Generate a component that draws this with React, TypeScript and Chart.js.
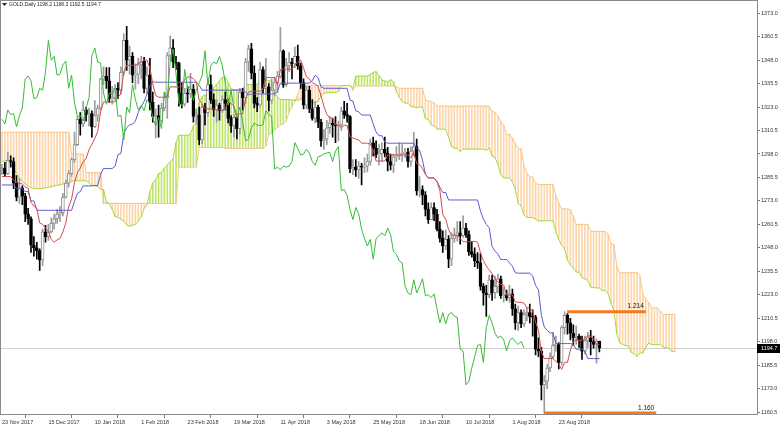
import React, { useEffect, useRef } from 'react';
import { Chart, registerables } from 'chart.js';

Chart.register(...registerables);

type Bar = [number, number, number, number]; // open, high, low, close

const symbolName = 'GOLD,Daily';

const ohlcNov2017: Bar[] = [
  [1289.5, 1292.5, 1287, 1290.5],
  [1290.5, 1293.5, 1286, 1287.5],
  [1287.5, 1299, 1287, 1294.5],
  [1294.5, 1297, 1291, 1294],
  [1294, 1296, 1279.5, 1282.5],
  [1282.5, 1286.5, 1273, 1275],
];
const ohlcDec2017: Bar[] = [
  [1275, 1285, 1271.5, 1280],
  [1280, 1281, 1271, 1275.5],
  [1275.5, 1277, 1262, 1266],
  [1266, 1269, 1260.5, 1263.5],
  [1263.5, 1264.5, 1245.5, 1249.5],
  [1249.5, 1254, 1243.5, 1248],
  [1248, 1251, 1242, 1246.5],
  [1246.5, 1247.5, 1236, 1241.5],
  [1241.5, 1258, 1238.5, 1256.5],
  [1256.5, 1260, 1251, 1254],
  [1254, 1260.5, 1252, 1256.5],
  [1256.5, 1264, 1256, 1261],
  [1261, 1266, 1258, 1263.5],
  [1263.5, 1268.5, 1261, 1266],
  [1266, 1270, 1262, 1266.8],
  [1266.8, 1277, 1265, 1275],
  [1275, 1284, 1274.5, 1282.5],
  [1282.5, 1289, 1280.5, 1287.5],
  [1287.5, 1296, 1286, 1295],
  [1295, 1309.5, 1293.5, 1303],
];
const ohlcJan2018: Bar[] = [
  [1303, 1318, 1302.5, 1316.5],
  [1316.5, 1320, 1308, 1314],
  [1314, 1326, 1312.5, 1321.5],
  [1321.5, 1323, 1315.5, 1319],
  [1319, 1322.5, 1313, 1319.5],
  [1319.5, 1321, 1307, 1312.5],
  [1312.5, 1326.5, 1312, 1318.5],
  [1318.5, 1324, 1315.5, 1322.5],
  [1322.5, 1338.5, 1321.5, 1338],
  [1338, 1344.5, 1335, 1339.5],
  [1339.5, 1344, 1333, 1337],
  [1337, 1344, 1325.5, 1327.5],
  [1327.5, 1334, 1324.5, 1328],
  [1328, 1335, 1326.5, 1333],
  [1333, 1336, 1327.5, 1332],
  [1332, 1344.5, 1330, 1341.5],
  [1341.5, 1362, 1340, 1358.5],
  [1358.5, 1366, 1342.5, 1348],
  [1348, 1355.5, 1340.5, 1350],
  [1350, 1352, 1336, 1340],
  [1340, 1346, 1332.5, 1340.5],
  [1340.5, 1349, 1335.5, 1345.5],
];
const ohlcFeb2018: Bar[] = [
  [1345.5, 1350, 1338, 1347.5],
  [1347.5, 1349.5, 1330.5, 1333],
  [1333, 1344.5, 1330, 1340],
  [1340, 1349, 1321.5, 1325.5],
  [1325.5, 1331, 1315, 1318],
  [1318, 1322, 1306.5, 1318.5],
  [1318.5, 1324, 1307, 1315.5],
  [1315.5, 1325, 1314.5, 1322.5],
  [1322.5, 1331, 1321, 1328],
  [1328, 1352, 1317, 1350.5],
  [1350.5, 1361, 1348, 1354.5],
  [1354.5, 1359, 1344, 1347],
  [1347, 1350, 1343, 1346.5],
  [1346.5, 1347, 1323.5, 1330.5],
  [1330.5, 1336, 1322.5, 1324.5],
  [1324.5, 1333, 1323.5, 1330.5],
  [1330.5, 1334, 1325.5, 1330],
  [1330, 1341, 1328, 1332.5],
  [1332.5, 1335, 1315, 1318],
  [1318, 1322, 1314, 1318.6],
];
const ohlcMar2018: Bar[] = [
  [1318.6, 1323, 1303, 1305.5],
  [1305.5, 1324.5, 1303.5, 1323],
  [1323, 1325, 1313.5, 1320],
  [1320, 1337, 1318, 1335],
  [1335, 1340, 1325, 1327],
  [1327, 1330, 1318, 1321.5],
  [1321.5, 1327, 1315, 1324],
  [1324, 1325, 1316, 1321],
  [1321, 1329, 1320, 1327],
  [1327, 1331, 1321.5, 1325],
  [1325, 1327, 1314.5, 1317],
  [1317, 1318.5, 1309.5, 1313],
  [1313, 1319, 1307, 1317.5],
  [1317.5, 1318, 1306, 1311.5],
  [1311.5, 1333, 1308.5, 1331],
  [1331, 1333, 1321.5, 1328],
  [1328, 1349, 1325, 1347],
  [1347, 1356, 1342, 1354],
  [1354, 1357, 1338, 1341],
  [1341, 1345, 1322.5, 1325],
  [1325, 1328, 1320.5, 1324],
];
const ohlcApr2018: Bar[] = [
  [1324, 1347, 1323.5, 1343],
  [1343, 1344.5, 1330.5, 1333],
  [1333, 1349, 1330, 1333.8],
  [1333.8, 1335.5, 1321, 1326.5],
  [1326.5, 1338, 1325, 1332],
  [1332, 1339, 1329, 1336],
  [1336, 1342, 1330.5, 1339.5],
  [1339.5, 1365.5, 1338.5, 1353],
  [1353, 1353.5, 1333.5, 1335],
  [1335, 1349, 1334, 1345],
  [1345, 1352, 1342, 1347],
  [1347, 1349, 1338, 1346],
  [1346, 1355, 1344, 1350],
  [1350, 1356, 1343, 1345],
  [1345, 1346.5, 1333, 1336],
  [1336, 1338, 1322, 1324],
  [1324, 1334, 1322, 1332],
  [1332, 1334, 1320, 1322],
  [1322, 1327, 1316, 1317],
  [1317, 1326, 1314.5, 1323],
  [1323, 1324, 1312, 1315],
];
const ohlcMay2018: Bar[] = [
  [1315, 1316.5, 1302, 1305],
  [1305, 1311, 1300.5, 1306],
  [1306, 1316, 1303, 1312],
  [1312, 1318, 1309, 1314.5],
  [1314.5, 1317, 1307, 1313.5],
  [1313.5, 1318, 1304, 1313],
  [1313, 1315.5, 1305, 1313.6],
  [1313.6, 1323, 1310.5, 1321],
  [1321, 1326, 1317, 1319],
  [1319, 1325, 1315, 1318],
  [1318, 1318.5, 1288, 1290],
  [1290, 1295, 1287, 1291],
  [1291, 1295, 1286, 1289.5],
  [1289.5, 1294, 1285, 1291.5],
  [1291.5, 1293, 1281.5, 1291],
  [1291, 1296, 1288, 1291.5],
  [1291.5, 1298, 1288.5, 1294],
  [1294, 1306, 1292, 1304],
  [1304, 1307, 1297, 1301],
  [1301, 1305, 1296, 1297.5],
  [1297.5, 1303, 1292, 1298],
  [1298, 1304, 1294, 1300.5],
  [1300.5, 1307, 1296.5, 1298.5],
];
const ohlcJun2018: Bar[] = [
  [1298.5, 1301.5, 1289, 1294],
  [1294, 1298, 1289.5, 1292],
  [1292, 1298, 1288, 1296.5],
  [1296.5, 1302, 1294, 1297],
  [1297, 1304, 1295, 1298],
  [1298, 1303, 1294, 1298.5],
  [1298.5, 1301, 1296, 1299],
  [1299, 1301, 1291, 1294],
  [1294, 1302, 1291.5, 1299.5],
  [1299.5, 1309.5, 1297, 1302],
  [1302, 1306, 1276, 1278.5],
  [1278.5, 1286, 1275, 1279],
  [1279, 1281, 1271, 1276],
  [1276, 1278, 1265, 1268.5],
  [1268.5, 1272, 1261, 1263],
  [1263, 1272, 1263, 1269.5],
  [1269.5, 1272, 1262.5, 1266],
  [1266, 1268.5, 1257, 1258],
  [1258, 1262, 1251, 1253],
  [1253, 1257, 1245.5, 1249],
  [1249, 1257.5, 1247, 1252.5],
];
const ohlcJul2018: Bar[] = [
  [1252.5, 1254.5, 1237.5, 1242],
  [1242, 1256, 1238.5, 1253],
  [1253, 1258.5, 1251, 1254.5],
  [1254.5, 1262, 1251.5, 1256],
  [1256, 1262, 1250, 1254.5],
  [1254.5, 1265, 1253.5, 1258.5],
  [1258.5, 1261, 1253.5, 1255],
  [1255, 1257, 1244, 1246],
  [1246, 1251.5, 1243, 1244.5],
  [1244.5, 1248, 1238, 1241],
  [1241, 1245.5, 1237, 1240],
  [1240, 1245, 1225.5, 1227.5],
  [1227.5, 1229, 1217.5, 1224],
  [1224, 1228, 1211.5, 1223],
  [1223, 1233.5, 1221.5, 1231],
  [1231, 1233.5, 1220, 1224],
  [1224, 1233, 1221, 1227.5],
  [1227.5, 1234, 1224, 1231.5],
  [1231.5, 1233, 1221, 1222.5],
  [1222.5, 1227, 1219, 1223],
  [1223, 1225.5, 1220, 1221.5],
  [1221.5, 1228, 1219, 1223.5],
];
const ohlcAug2018: Bar[] = [
  [1223.5, 1226, 1212, 1215.5],
  [1215.5, 1218, 1204.5, 1208],
  [1208, 1217, 1204, 1213.5],
  [1213.5, 1215, 1205.5, 1207.5],
  [1207.5, 1215, 1206, 1212.5],
  [1212.5, 1216, 1209, 1213.5],
  [1213.5, 1218, 1208, 1211.5],
  [1211.5, 1215, 1201, 1211],
  [1211, 1212, 1191, 1194],
  [1194, 1200, 1190, 1193],
  [1193, 1195, 1167, 1175],
  [1175, 1180, 1160, 1177],
  [1177, 1186, 1173, 1184],
  [1184, 1192, 1182, 1190],
  [1190, 1203, 1189, 1196],
  [1196, 1201, 1193, 1196.5],
  [1196.5, 1197.5, 1183.5, 1187],
  [1187, 1206.5, 1185.5, 1205.5],
  [1205.5, 1214, 1202, 1212],
  [1212, 1213, 1202, 1208],
  [1208, 1210.5, 1199, 1202.5],
  [1202.5, 1207, 1196, 1200],
  [1200, 1206.5, 1196.5, 1201],
];
const ohlcSep2018: Bar[] = [
  [1201, 1202, 1195, 1199],
  [1199, 1201, 1188.5, 1193],
  [1193, 1201, 1191.5, 1198.5],
  [1198.5, 1203, 1195, 1200],
  [1200, 1204, 1191, 1198],
  [1198, 1201, 1194.5, 1196.5],
  [1196.5, 1199.5, 1186.5, 1198.2],
  [1198.2, 1198.3, 1192.5, 1194.7],
];

// Ichimoku: Tenkan-sen (one value per bar)
const tenkan: number[] = [
  1286, 1286, 1286, 1286, 1284, 1283, 1282.5, 1282,
  1280.5, 1279.75, 1272.25, 1270.25, 1269, 1261.25, 1260.5, 1258.5,
  1256.5, 1252.5, 1251, 1252.25, 1253, 1256.5, 1261.25, 1270,
  1274, 1282.75, 1288, 1290.5, 1294, 1295.5, 1300.25, 1303.25,
  1306.25, 1310, 1320.5, 1325.75, 1325.75, 1325.75, 1325.75, 1325.75,
  1328.25, 1330, 1341.75, 1345.25, 1345.25, 1345.25, 1345.25, 1346.25,
  1346.75, 1348, 1348, 1343.75, 1335.25, 1329.25, 1328.25, 1328.25,
  1328.25, 1329.25, 1333.75, 1333.75, 1333.75, 1333.75, 1334, 1337.75,
  1339, 1339, 1338, 1336.5, 1326.5, 1325, 1322, 1322,
  1322, 1322, 1321.5, 1321.5, 1321.5, 1321.75, 1326.75, 1324.75,
  1323.5, 1318.5, 1319.5, 1319.5, 1327.5, 1331, 1331.5, 1331.5,
  1331.5, 1331.5, 1332.75, 1338.75, 1338.75, 1338.75, 1338.75, 1334.75,
  1343, 1343.25, 1343.25, 1343.25, 1343.25, 1345.25, 1347.25, 1348,
  1343.75, 1339, 1338, 1336, 1335.25, 1334, 1329, 1323.5,
  1319.25, 1317.25, 1317.25, 1313.75, 1313.25, 1312.25, 1313.25, 1313.25,
  1307, 1306.5, 1306, 1305.5, 1303.75, 1303.75, 1303.75, 1303.25,
  1300, 1294.25, 1294.25, 1294.25, 1294.25, 1297.5, 1297.75, 1297.5,
  1297.5, 1297.5, 1297.5, 1297.5, 1297.5, 1296, 1298.75, 1292.75,
  1292.25, 1290.25, 1287.25, 1285.25, 1285.25, 1285.25, 1283.25, 1278.5,
  1265.75, 1263.25, 1257.75, 1254.75, 1254.75, 1254.75, 1253, 1251.25,
  1251.25, 1251.25, 1251.25, 1251.5, 1251, 1245.25, 1241.25, 1238.25,
  1236.25, 1234.25, 1231.5, 1229.75, 1228.5, 1228.25, 1222.75, 1222.75,
  1223, 1219.25, 1219, 1219, 1218.5, 1216, 1216, 1214.5,
  1208.5, 1204, 1192.5, 1189, 1189, 1189, 1189, 1187.5,
  1186, 1183.25, 1187, 1187, 1193.5, 1198, 1198.75, 1198.75,
  1198.75, 1199.75, 1201.25, 1200.75, 1199.5, 1196.75, 1196.5,
];

// Ichimoku: Kijun-sen (one value per bar)
const kijun: number[] = [
  1281.5, 1281.5, 1281.5, 1281.5, 1281.5, 1279.5, 1279.5, 1279.5,
  1278, 1278, 1273, 1273, 1268, 1268, 1268, 1268,
  1268, 1268, 1268, 1268, 1268, 1268, 1268, 1268,
  1268, 1272.75, 1277, 1278, 1281, 1281, 1281, 1281,
  1281.25, 1281.25, 1287.25, 1290.25, 1290.25, 1290.25, 1290.25, 1291.5,
  1297.75, 1298.25, 1309, 1312, 1313.5, 1314, 1315.5, 1320.25,
  1323.25, 1326, 1329.75, 1334.25, 1336.5, 1336.25, 1336.25, 1336.25,
  1336.25, 1336.25, 1336.25, 1336.25, 1336.25, 1336.25, 1336.25, 1336.25,
  1336.25, 1336.25, 1336.25, 1336.25, 1334.5, 1332, 1332, 1332,
  1332, 1332, 1332, 1332, 1332, 1332, 1332, 1332,
  1332, 1332, 1332, 1332, 1331, 1329.5, 1330, 1330,
  1330, 1330, 1330, 1330, 1330, 1330, 1330.25, 1331.5,
  1335.75, 1335.75, 1335.75, 1335.75, 1335.75, 1335.75, 1335.75, 1335.75,
  1335.75, 1335.75, 1335.75, 1337, 1340, 1338.75, 1333.75, 1333,
  1333, 1333, 1333, 1333, 1333, 1333, 1333, 1333,
  1326.75, 1326.25, 1321, 1320.5, 1318.75, 1318.75, 1318.75, 1318.75,
  1314, 1309.75, 1307.75, 1307.75, 1304.25, 1303.75, 1303.75, 1303.75,
  1303.75, 1303.75, 1303.75, 1303.75, 1303.75, 1303.75, 1303.75, 1301,
  1300, 1294.75, 1287.25, 1285.25, 1285.25, 1285.25, 1283.25, 1280.25,
  1277.5, 1277.5, 1273.5, 1273.5, 1273.5, 1273.5, 1273.5, 1273.5,
  1273.5, 1273.5, 1273.5, 1273.5, 1273.5, 1267.5, 1263.5, 1260.5,
  1258.75, 1248.75, 1246.25, 1244.75, 1241.75, 1241.75, 1241.75, 1240,
  1238.25, 1234.75, 1234.5, 1234.5, 1234.5, 1234.5, 1234.5, 1233,
  1228, 1225.5, 1212, 1205.75, 1204, 1202.75, 1202.5, 1197,
  1197, 1197, 1197, 1197, 1197, 1196.5, 1194, 1194,
  1194, 1193, 1189, 1189, 1189, 1189, 1189,
];

// Ichimoku: Senkou Span A as displayed (already 26 bars ahead), one value per bar slot
const senkouA: number[] = [
  1293.7, 1294.5, 1294.7, 1292.5, 1290, 1288, 1285, 1283.5,
  1282, 1281, 1280, 1279.6, 1279.5, 1279.5, 1279.6, 1280,
  1280.2, 1280.5, 1281, 1281.3, 1281.6, 1282, 1282.5, 1283,
  1283.5, 1283.7,
  1283.75, 1283.75, 1283.75, 1283.75, 1282.75, 1281.25, 1281, 1280.75,
  1279.25, 1278.9, 1272.6, 1271.6, 1268.5, 1264.6, 1264.25, 1263.25,
  1262.25, 1260.25, 1259.5, 1260.1, 1260.5, 1262.25, 1264.6, 1269,
  1271, 1277.75, 1282.5, 1284.25, 1287.5, 1288.25, 1290.6, 1292.1,
  1293.75, 1295.6, 1303.9, 1308, 1308, 1308, 1308, 1308.6,
  1313, 1314.1, 1325.4, 1328.6, 1329.4, 1329.6, 1330.4, 1333.25,
  1335, 1337, 1338.9, 1339, 1335.9, 1332.75, 1332.25, 1332.25,
  1332.25, 1332.75, 1335, 1335, 1335, 1335, 1335.1, 1337,
  1337.6, 1337.6, 1337.1, 1336.4, 1330.5, 1328.5, 1327, 1327,
  1327, 1327, 1326.75, 1326.75, 1326.75, 1326.9, 1329.4, 1328.4,
  1327.75, 1325.25, 1325.75, 1325.75, 1329.25, 1330.25, 1330.75, 1330.75,
  1330.75, 1330.75, 1331.4, 1334.4, 1334.4, 1334.4, 1334.5, 1333.1,
  1339.4, 1339.5, 1339.5, 1339.5, 1339.5, 1340.5, 1341.5, 1341.9,
  1339.75, 1337.4, 1336.9, 1336.5, 1337.6, 1336.4, 1331.4, 1328.25,
  1326.1, 1325.1, 1325.1, 1323.4, 1323.1, 1322.6, 1323.1, 1323.1,
  1316.9, 1316.4, 1313.5, 1313, 1311.25, 1311.25, 1311.25, 1311,
  1307, 1302, 1301, 1301, 1299.25, 1300.6, 1300.75, 1300.6,
  1300.6, 1300.6, 1300.6, 1300.6, 1300.6, 1299.9, 1301.25, 1296.9,
  1296.1, 1292.5, 1287.25, 1285.25, 1285.25, 1285.25, 1283.25, 1279.4,
  1271.6, 1270.4, 1265.6, 1264.1, 1264.1, 1264.1, 1263.25, 1262.4,
  1262.4, 1262.4, 1262.4, 1262.5, 1262.25, 1256.4, 1252.4, 1249.4,
  1247.5, 1241.5, 1238.9, 1237.25, 1235.1, 1235, 1232.25, 1231.4,
  1230.6, 1227, 1226.75, 1226.75, 1226.5, 1225.25, 1225.25, 1223.75,
  1218.25, 1214.75, 1202.25, 1197.4, 1196.5, 1195.9, 1195.75, 1192.25,
  1191.5, 1190.1, 1192, 1192, 1195.25, 1197.25, 1196.4, 1196.4,
  1196.4, 1196.4, 1195.1, 1194.9, 1194.25, 1192.9, 1192.75,
];

// Ichimoku: Senkou Span B as displayed (already 26 bars ahead)
const senkouB: number[] = [
  1309.6, 1309.6, 1309.6, 1309.6, 1309.6, 1309.6, 1309.6, 1309.6,
  1309.6, 1309.6, 1309.6, 1309.6, 1309.6, 1309.6, 1309.6, 1309.6,
  1309.6, 1309.6, 1309.6, 1309.6, 1309.6, 1309.6, 1309.6, 1309.6,
  1298, 1298, 1298, 1298, 1298, 1288, 1288, 1288,
  1288, 1288, 1288, 1271.7, 1271.7, 1271.7, 1271.7, 1271.7,
  1271.7, 1271.7, 1271.7, 1271.7, 1271.7, 1271.7, 1271.7, 1271.7,
  1271.7, 1271.7, 1271.7, 1271.7, 1271.7, 1271.7, 1271.7, 1271.7,
  1271.7, 1271.7, 1271.7, 1271.7, 1271.7, 1291, 1291, 1291,
  1291, 1291, 1291, 1291, 1301.5, 1301.5, 1301.5, 1301.5,
  1301.5, 1301.5, 1301.5, 1301.5, 1301.5, 1301, 1301, 1301,
  1301, 1301, 1301, 1301, 1301, 1301, 1301, 1301,
  1301, 1301, 1301, 1302.25, 1308.5, 1309, 1311, 1312,
  1313.5, 1314, 1315.5, 1320.25, 1323.25, 1326, 1329.75, 1334.25,
  1334.5, 1334.5, 1334.5, 1334.5, 1334.5, 1334.5, 1334.5, 1334.5,
  1334.5, 1334.5, 1334.5, 1334.5, 1334.5, 1334.5, 1334.5, 1334.5,
  1334.5, 1332, 1334.25, 1334.25, 1334.25, 1334.25, 1334.25, 1334.25,
  1334.25, 1334.25, 1334.25, 1334.25, 1334.25, 1334.25, 1334.25, 1334.25,
  1333.75, 1333, 1333, 1333, 1333, 1333, 1333, 1333,
  1333, 1333, 1326.75, 1326.25, 1325.75, 1325.25, 1323.5, 1323.5,
  1323.5, 1323.5, 1323.5, 1323.5, 1323.5, 1323.5, 1323.5, 1323.5,
  1323.5, 1323.5, 1323.5, 1323.5, 1323.5, 1323.5, 1323.5, 1323.5,
  1323.5, 1320.75, 1320.25, 1318.25, 1315.25, 1313.25, 1308.5, 1308.5,
  1306.5, 1303.5, 1300.75, 1300.75, 1292, 1287.75, 1285.75, 1285.75,
  1282.25, 1281.75, 1281.75, 1281.75, 1281.75, 1281.75, 1281.75, 1275.75,
  1271.75, 1268.75, 1268.75, 1268.75, 1268.25, 1265, 1260.5, 1260.5,
  1260.5, 1260.5, 1260.5, 1257, 1256.75, 1256.75, 1256.75, 1256.75,
  1256.75, 1255.25, 1250.25, 1249.75, 1238.25, 1234.75, 1234.75, 1234.75,
  1234.75, 1234.75, 1234.75, 1234.75, 1233, 1223, 1220.5, 1219,
  1216, 1216, 1216, 1214.25, 1212.5, 1212.5, 1212.5, 1212.5,
  1212.5,
];

const chikouShift = 26;

const xTickBars = [0, 16, 32, 48, 64, 80, 96, 112, 128, 144, 160, 176, 192];
const xTickLabels = [
  '23 Nov 2017', '15 Dec 2017', '10 Jan 2018', '1 Feb 2018', '23 Feb 2018',
  '19 Mar 2018', '11 Apr 2018', '3 May 2018', '25 May 2018', '18 Jun 2018',
  '10 Jul 2018', '1 Aug 2018', '23 Aug 2018',
];
const yTickValues = [
  1160.5, 1173.0, 1185.5, 1198.0, 1210.5, 1223.0, 1235.5, 1248.0, 1260.5,
  1273.0, 1285.5, 1298.0, 1310.5, 1323.0, 1335.5, 1348.0, 1360.5, 1373.0,
];

// horizontal levels drawn on the chart
const levelValues = [1214, 1160];
const levelStartBar = [194.9, 186.9];
const levelEndBar = [222, 225.6];
const levelLabels = ['1.214', '1.160'];

const FONT = '"Liberation Sans", Arial, sans-serif';

export default function App() {
  const ref = useRef<HTMLCanvasElement>(null);

  useEffect(() => {
    document.body.style.margin = '0';
    const bars: Bar[] = [
      ...ohlcNov2017, ...ohlcDec2017, ...ohlcJan2018, ...ohlcFeb2018, ...ohlcMar2018,
      ...ohlcApr2018, ...ohlcMay2018, ...ohlcJun2018, ...ohlcJul2018, ...ohlcAug2018,
      ...ohlcSep2018,
    ];
    const last = bars[bars.length - 1];
    const isUp = (b: Bar) => b[3] >= b[0];

    const wickData = bars.map((b, i) => ({ x: i, y: [b[2], b[1]] }));
    const bodyData = bars.map((b, i) => ({ x: i, y: [b[0], b[3]] }));
    const wickColors = bars.map((b) => (isUp(b) ? '#9b9b9b' : '#000000'));
    const bodyFill = bars.map((b) => (isUp(b) ? '#ffffff' : '#000000'));
    const bodyBorder = bars.map((b) => (isUp(b) ? '#8e8e8e' : '#000000'));

    const nCloud = Math.min(senkouA.length, senkouB.length);
    const cloudData: any[] = [];
    const cloudColors: string[] = [];
    for (let k = 0; k < nCloud; k++) {
      cloudData.push({ x: k, y: [senkouA[k], senkouB[k]] });
      cloudColors.push(senkouA[k] >= senkouB[k] ? '#bfe46a' : '#fcd5aa');
    }
    const spanAData = senkouA.map((v, k) => ({ x: k, y: v }));
    const spanBData = senkouB.map((v, k) => ({ x: k, y: v }));
    const tenkanData = tenkan.map((v, i) => ({ x: i, y: v }));
    const kijunData = kijun.map((v, i) => ({ x: i, y: v }));
    const chikouData = bars
      .map((b, i) => ({ x: i - chikouShift, y: b[3] }))
      .filter((p) => p.x >= 0);

    const lineBase = { type: 'line' as const, pointRadius: 0, borderWidth: 1, tension: 0, fill: false };

    const overlayPlugin = {
      id: 'mtOverlay',
      beforeDatasetsDraw(chart: any) {
        const { ctx, chartArea: a, scales } = chart;
        const y = Math.round(scales.y.getPixelForValue(last[3])) + 0.5;
        ctx.save();
        ctx.strokeStyle = '#cfcfcf';
        ctx.lineWidth = 1;
        ctx.beginPath();
        ctx.moveTo(a.left, y);
        ctx.lineTo(a.right, y);
        ctx.stroke();
        ctx.restore();
      },
      afterDatasetsDraw(chart: any) {
        const { ctx, chartArea: a, scales } = chart;
        ctx.save();
        // frame
        ctx.strokeStyle = '#8a8a8a';
        ctx.lineWidth = 1;
        ctx.strokeRect(0.5, 0.5, a.right - 0.5 + 0.5 - 0.5 + 0.5, a.bottom);
        // title
        ctx.fillStyle = '#222';
        ctx.beginPath();
        ctx.moveTo(2, 3);
        ctx.lineTo(7, 3);
        ctx.lineTo(4.5, 6);
        ctx.closePath();
        ctx.fill();
        ctx.font = `5px ${FONT}`;
        ctx.textBaseline = 'middle';
        ctx.textAlign = 'left';
        ctx.fillText(symbolName, 9, 5);
        ctx.fillText(`${last[0].toFixed(1)} ${last[1].toFixed(1)} ${last[2].toFixed(1)} ${last[3].toFixed(1)}`, 37, 5);
        // level labels
        ctx.font = `6.5px ${FONT}`;
        ctx.fillStyle = '#111';
        ctx.textAlign = 'right';
        ctx.textBaseline = 'bottom';
        for (let i = 0; i < levelValues.length; i++) {
          const lx = scales.x.getPixelForValue(levelEndBar[i]);
          const ly = scales.y.getPixelForValue(levelValues[i]);
          ctx.fillText(levelLabels[i], lx - 2, ly - 2);
        }
        // current price box
        const py = scales.y.getPixelForValue(last[3]);
        ctx.fillStyle = '#000';
        ctx.fillRect(a.right, Math.round(py) - 4, 780 - a.right, 9);
        ctx.fillStyle = '#fff';
        ctx.font = `5.5px ${FONT}`;
        ctx.textAlign = 'left';
        ctx.textBaseline = 'middle';
        ctx.fillText(last[3].toFixed(1), a.right + 4, Math.round(py) + 0.5);
        ctx.restore();
      },
    };

    const chart = new Chart(ref.current as HTMLCanvasElement, {
      type: 'bar',
      data: {
        datasets: [
          {
            type: 'bar', label: 'cloud', data: cloudData, backgroundColor: cloudColors,
            barThickness: 1, grouped: false, order: 20, borderWidth: 0,
          } as any,
          { ...lineBase, label: 'Senkou B', data: spanBData, borderColor: '#f7c58c', order: 19 } as any,
          { ...lineBase, label: 'Senkou A', data: spanAData, borderColor: '#a3d93a', order: 18 } as any,
          {
            type: 'bar', label: 'wick', data: wickData, backgroundColor: wickColors,
            barThickness: 1, grouped: false, order: 15, borderWidth: 0,
          } as any,
          {
            type: 'bar', label: 'body', data: bodyData, backgroundColor: bodyFill,
            borderColor: bodyBorder, borderWidth: 1, borderSkipped: false,
            barThickness: 3, grouped: false, order: 14, minBarLength: 1,
          } as any,
          { ...lineBase, label: 'Kijun', data: kijunData, borderColor: '#5a5acf', order: 6 } as any,
          { ...lineBase, label: 'Tenkan', data: tenkanData, borderColor: '#d24a4a', order: 5 } as any,
          { ...lineBase, label: 'Chikou', data: chikouData, borderColor: '#36bb36', order: 4 } as any,
          ...levelValues.map((v, i) => ({
            ...lineBase,
            label: levelLabels[i],
            data: [{ x: levelStartBar[i], y: v }, { x: levelEndBar[i], y: v }],
            borderColor: '#f47a22',
            borderWidth: 3,
            borderCapStyle: 'butt',
            order: 1,
          })) as any,
        ],
      },
      options: {
        responsive: false,
        animation: false,
        events: [],
        layout: { padding: { left: 1, top: 1, right: 0, bottom: 0 }, autoPadding: false } as any,
        plugins: { legend: { display: false }, tooltip: { enabled: false }, title: { display: false } },
        scales: {
          x: {
            type: 'linear',
            min: -0.345,
            max: 260.35,
            offset: false,
            afterBuildTicks: (s: any) => { s.ticks = xTickBars.map((v) => ({ value: v })); },
            afterFit: (s: any) => { s.height = 21; },
            grid: { drawOnChartArea: false, drawTicks: true, tickLength: 4, color: '#7a7a7a' },
            border: { display: false },
            ticks: {
              autoSkip: false, maxRotation: 0, minRotation: 0, align: 'start', padding: 1,
              color: '#333', font: { family: FONT, size: 5.5 },
              callback: (_v: any, i: number) => xTickLabels[i],
            },
          } as any,
          y: {
            type: 'linear',
            position: 'right',
            min: 1159.47,
            max: 1377.757,
            afterBuildTicks: (s: any) => { s.ticks = yTickValues.map((v) => ({ value: v })); },
            afterFit: (s: any) => { s.width = 23; },
            grid: { drawOnChartArea: false, drawTicks: true, tickLength: 3, color: '#7a7a7a' },
            border: { display: false },
            ticks: {
              autoSkip: false, padding: 1, color: '#333', font: { family: FONT, size: 5.5 },
              callback: (v: any) => Number(v).toFixed(1),
            },
          } as any,
        },
      },
      plugins: [overlayPlugin],
    } as any);

    return () => chart.destroy();
  }, []);

  return (
    <div style={{ width: 780, height: 435, background: '#fff' }}>
      <canvas ref={ref} width={780} height={435} style={{ display: 'block' }} />
    </div>
  );
}
